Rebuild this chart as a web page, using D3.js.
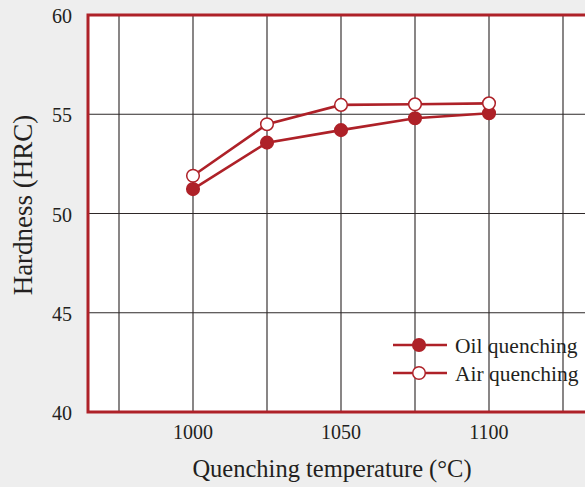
<!DOCTYPE html>
<html><head><meta charset="utf-8">
<script src="https://cdn.jsdelivr.net/npm/d3@7"></script>
<style>body{margin:0;background:#eeeeee;}svg{display:block;}</style>
</head><body>
<script>
const temps = [1000, 1025, 1050, 1075, 1100];
const oilQuenching = [51.23, 53.57, 54.2, 54.8, 55.05];
const airQuenching = [51.9, 54.5, 55.47, 55.5, 55.55];
const xTicks = [1000, 1050, 1100];
const xGrid = [975, 1000, 1025, 1050, 1075, 1100, 1125];
const yTicks = [40, 45, 50, 55, 60];
const seriesNames = ["Oil quenching", "Air quenching"];

(function () {
const W = 585, H = 487;
const red = "#ae2128";
const ink = "#231f20";
const svg = d3.select("body").append("svg").attr("width", W).attr("height", H)
  .style("font-family", "'Liberation Serif', 'Times New Roman', serif");
svg.append("rect").attr("width", W).attr("height", H).attr("fill", "#eeeeee");

const x = d3.scaleLinear().domain([1000, 1100]).range([193, 489]);
const pL = 88, pR = 600, pT = 15, pB = 412;
const y = d3.scaleLinear().domain([40, 60]).range([pB, pT]);

svg.append("rect").attr("x", pL).attr("y", pT).attr("width", pR - pL).attr("height", pB - pT).attr("fill", "#fff");

// grid
svg.append("g").selectAll("line").data(xGrid).join("line")
  .attr("x1", d => x(d)).attr("x2", d => x(d)).attr("y1", pT).attr("y2", pB)
  .attr("stroke", "#4a4444").attr("stroke-width", 1.3);
svg.append("g").selectAll("line").data(yTicks.filter(d => d > 40 && d < 60)).join("line")
  .attr("x1", pL).attr("x2", pR).attr("y1", d => y(d)).attr("y2", d => y(d))
  .attr("stroke", "#2e2828").attr("stroke-width", 1.2);

// border
svg.append("rect").attr("x", pL).attr("y", pT).attr("width", pR - pL).attr("height", pB - pT)
  .attr("fill", "none").attr("stroke", red).attr("stroke-width", 3);

// axes labels
svg.append("g").selectAll("text").data(yTicks).join("text")
  .attr("x", 72).attr("y", d => y(d) + 1).attr("dy", "0.35em").attr("text-anchor", "end")
  .attr("font-size", 20).attr("fill", ink).text(d => d);
svg.append("g").selectAll("text").data(xTicks).join("text")
  .attr("x", d => x(d)).attr("y", 432).attr("dy", "0.35em").attr("text-anchor", "middle")
  .attr("font-size", 20).attr("fill", ink).text(d => d);

svg.append("text").attr("transform", "translate(32,205) rotate(-90)").attr("text-anchor", "middle")
  .attr("font-size", 27).attr("fill", ink).text("Hardness (HRC)");
svg.append("text").attr("x", 332).attr("y", 477).attr("text-anchor", "middle")
  .attr("font-size", 24.5).attr("fill", ink).text("Quenching temperature (°C)");

const line = d3.line().x(d => x(d[0])).y(d => y(d[1]));
const series = [
  {name: seriesNames[0], vals: oilQuenching, fill: red},
  {name: seriesNames[1], vals: airQuenching, fill: "#fff"}
];
series.forEach(s => {
  const pts = temps.map((t, i) => [t, s.vals[i]]);
  svg.append("path").datum(pts).attr("d", line).attr("fill", "none").attr("stroke", red).attr("stroke-width", 2.6);
});
series.forEach(s => {
  const pts = temps.map((t, i) => [t, s.vals[i]]);
  svg.append("g").selectAll("circle").data(pts).join("circle")
    .attr("cx", d => x(d[0])).attr("cy", d => y(d[1])).attr("r", 6.3)
    .attr("fill", s.fill).attr("stroke", red).attr("stroke-width", 1.5);
});

// legend
const lg = svg.append("g");
series.forEach((s, i) => {
  const ly = 345 + i * 28;
  lg.append("line").attr("x1", 393).attr("x2", 447).attr("y1", ly).attr("y2", ly).attr("stroke", red).attr("stroke-width", 2.6);
  lg.append("circle").attr("cx", 419).attr("cy", ly).attr("r", 6.3).attr("fill", s.fill).attr("stroke", red).attr("stroke-width", 1.5);
  lg.append("text").attr("x", 455).attr("y", ly).attr("dy", "0.35em").attr("font-size", 21.5).attr("fill", ink).text(s.name);
});
})();
</script>
</body></html>
